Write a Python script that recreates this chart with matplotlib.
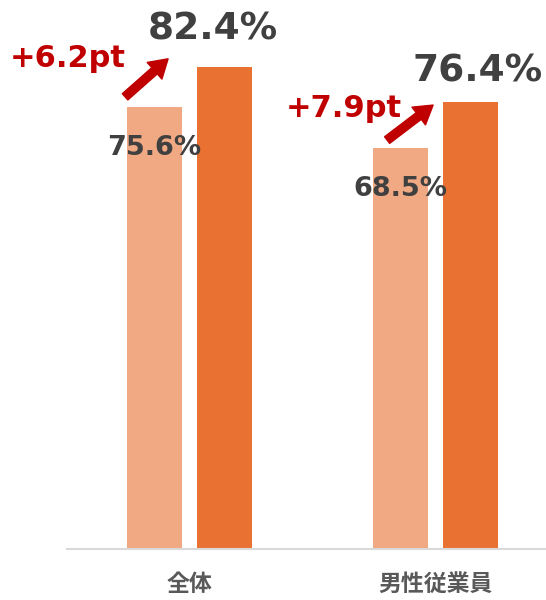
import matplotlib
matplotlib.use("Agg")
import matplotlib.pyplot as plt
import matplotlib.transforms as mtransforms
from matplotlib.patches import FancyArrowPatch
import numpy as np

categories = ["全体", "男性従業員"]
before_vals = [75.6, 68.5]
after_vals = [82.4, 76.4]
diff_labels = ["+6.2pt", "+7.9pt"]

plt.rcParams['font.family'] = ['DejaVu Sans']

fig = plt.figure(figsize=(5.46, 6.0), dpi=100)
ax = fig.add_axes([67 / 546, 51 / 600, 1 - 67 / 546, 1 - 51 / 600])

x = np.arange(len(categories))
w = 0.2236
off = 0.142
c_light = "#F1A983"
c_dark = "#E97132"
ax.bar(x - off, before_vals, width=w, color=c_light, zorder=2)
ax.bar(x + off, after_vals, width=w, color=c_dark, zorder=2)

ax.set_xlim(-0.498, 1.449)
ax.set_ylim(0, 93.8)
for s in ["top", "right", "left"]:
    ax.spines[s].set_visible(False)
ax.spines["bottom"].set_color("#D9D9D9")
ax.spines["bottom"].set_linewidth(1.5)
ax.set_yticks([])
ax.set_xticks(x)
ax.set_xticklabels(categories, fontfamily=["Noto Sans CJK JP", "DejaVu Sans"],
                   fontweight="bold", fontsize=16.5, color="#595959")
ax.tick_params(axis="x", length=0, pad=17)

gray = "#404040"
red = "#C00000"
# per-group pixel offsets (dx, dy up)
big_off = [(-12, 27), (7.5, 20)]
small_off = [(0, -48)]
diff_off = [(-87, 40), (-57, 31)]
arrow_tail = [(-29.5, 9.7), (-13.5, 8)]
arrow_head = [(13.5, 47.7), (32.5, 43)]

for i in range(len(categories)):
    ax.annotate(f"{after_vals[i]:.1f}%", xy=(x[i] + off, after_vals[i]),
                xytext=big_off[i], textcoords="offset pixels",
                ha="center", va="baseline", fontsize=27, fontweight="bold", color=gray)
    ax.annotate(f"{before_vals[i]:.1f}%", xy=(x[i] - off, before_vals[i]),
                xytext=(0, -48), textcoords="offset pixels",
                ha="center", va="baseline", fontsize=19.5, fontweight="bold", color=gray)
    ax.annotate(diff_labels[i], xy=(x[i] - off, before_vals[i]),
                xytext=diff_off[i], textcoords="offset pixels",
                ha="center", va="baseline", fontsize=22, fontweight="bold", color=red)

fig.canvas.draw()
for i in range(len(categories)):
    base = ax.transData.transform((x[i] - off, before_vals[i]))
    t = (base[0] + arrow_tail[i][0], base[1] + arrow_tail[i][1])
    h = (base[0] + arrow_head[i][0], base[1] + arrow_head[i][1])
    arr = FancyArrowPatch(t, h, transform=mtransforms.IdentityTransform(),
                          arrowstyle="simple,head_length=13,head_width=16,tail_width=6",
                          mutation_scale=1, color=red, shrinkA=0, shrinkB=0, zorder=5)
    fig.add_artist(arr)

fig.savefig("out.png", dpi=100)
